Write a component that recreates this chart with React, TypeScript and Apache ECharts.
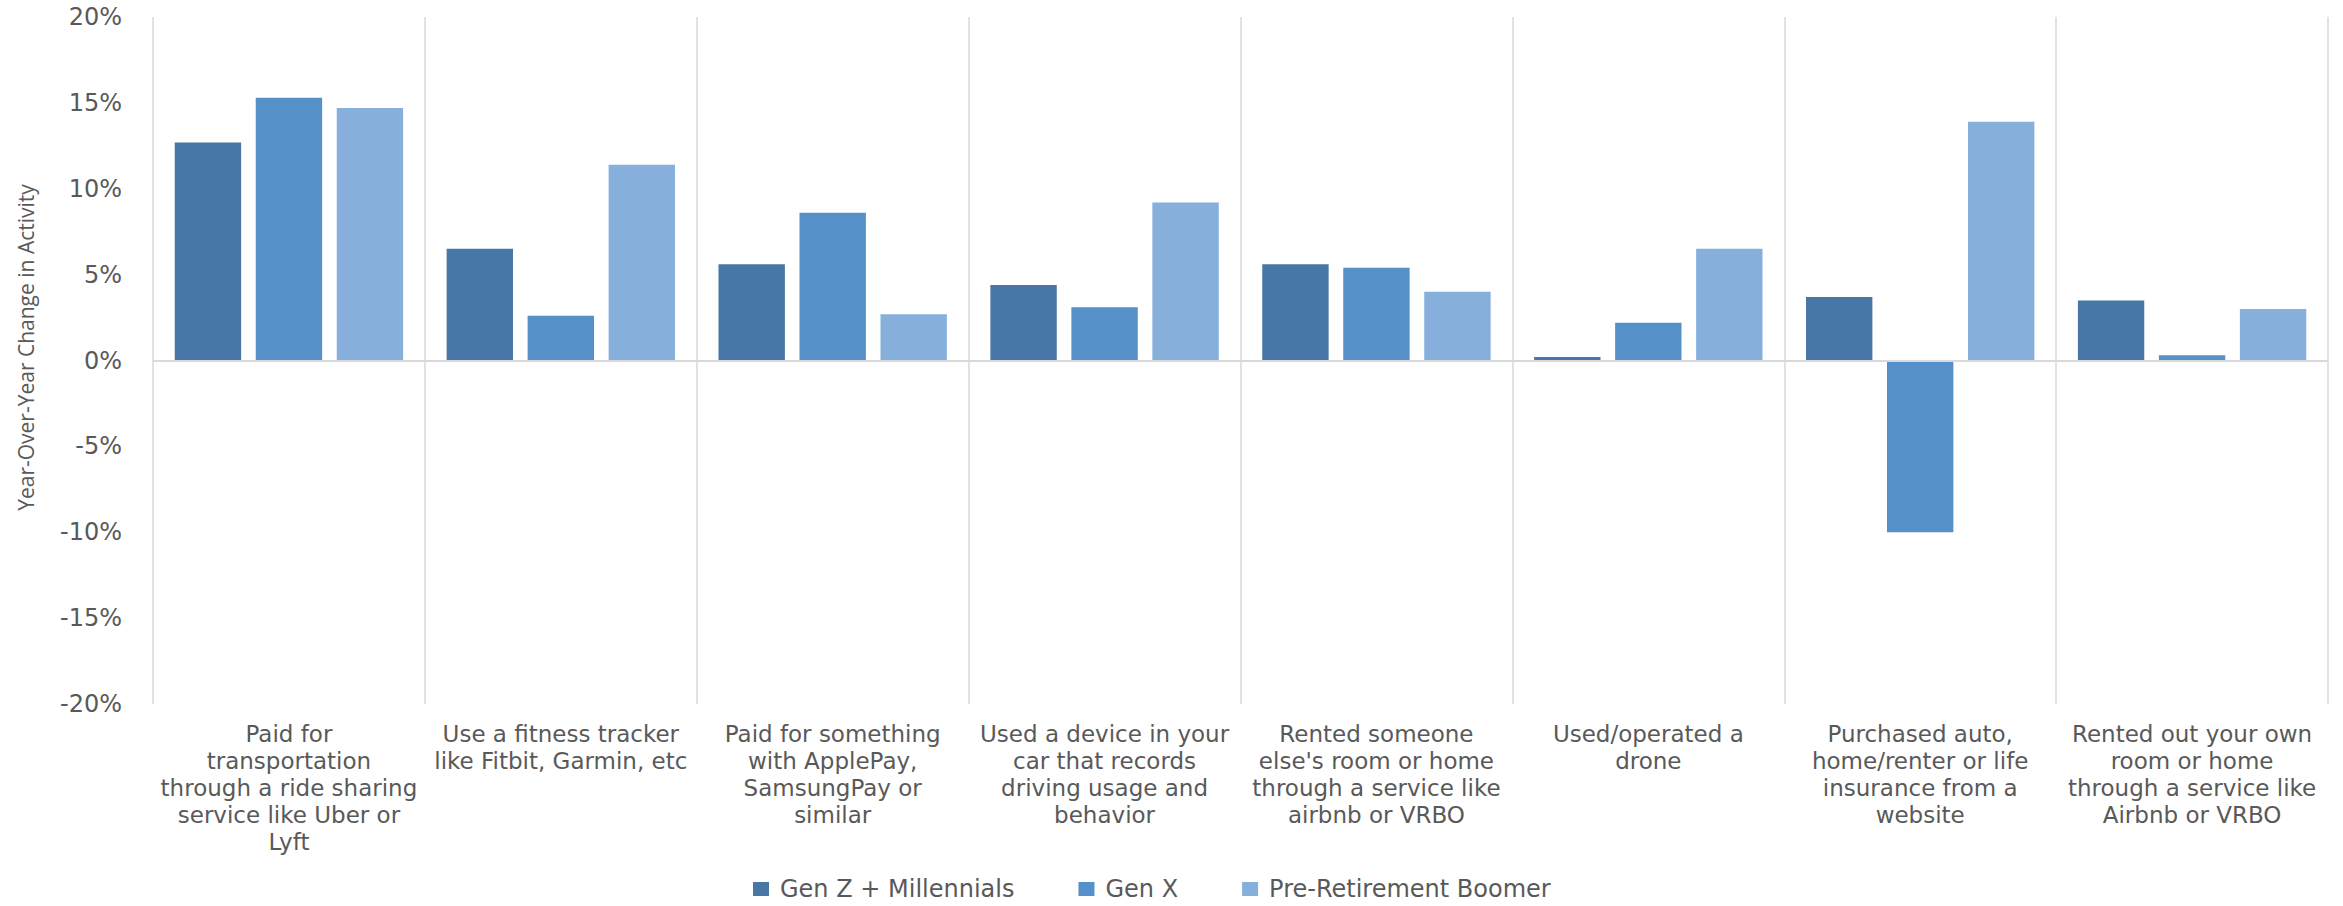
import React, { useEffect, useRef } from "react";
import * as echarts from "echarts";

const categories = [
  "Paid for\ntransportation\nthrough a ride sharing\nservice like Uber or\nLyft",
  "Use a fitness tracker\nlike Fitbit, Garmin, etc",
  "Paid for something\nwith ApplePay,\nSamsungPay or\nsimilar",
  "Used a device in your\ncar that records\ndriving usage and\nbehavior",
  "Rented someone\nelse's room or home\nthrough a service like\nairbnb or VRBO",
  "Used/operated a\ndrone",
  "Purchased auto,\nhome/renter or life\ninsurance from a\nwebsite",
  "Rented out your own\nroom or home\nthrough a service like\nAirbnb or VRBO",
];

const seriesNames = ["Gen Z + Millennials", "Gen X", "Pre-Retirement Boomer"];
const genZMillennials = [12.7, 6.5, 5.6, 4.4, 5.6, 0.2, 3.7, 3.5];
const genX = [15.3, 2.6, 8.6, 3.1, 5.4, 2.2, -10.0, 0.3];
const preRetirementBoomer = [14.7, 11.4, 2.7, 9.2, 4.0, 6.5, 13.9, 3.0];

const yMin = -20;
const yMax = 20;
const yInterval = 5;
const yAxisTitle = "Year-Over-Year Change in Activity";

const colors = ["#4777A6", "#5591C8", "#86AFDB"];

export default function App() {
  const ref = useRef<HTMLDivElement>(null);
  useEffect(() => {
    if (!ref.current) return;
    const chart = echarts.init(ref.current, null, { renderer: "svg" });
    const textColor = "#595959";
    const values = [genZMillennials, genX, preRetirementBoomer];
    chart.setOption({
      animation: false,
      backgroundColor: "#ffffff",
      color: colors,
      grid: { left: 153, right: 15, top: 17, bottom: 202, containLabel: false },
      legend: {
        left: 748,
        top: 871,
        itemWidth: 16,
        itemHeight: 14,
        itemGap: 64,
        icon: "rect",
        textStyle: {
          fontFamily: "DejaVu Sans",
          fontSize: 24,
          lineHeight: 26,
          color: textColor,
          padding: [0, 0, 0, 6],
        },
        data: seriesNames,
      },
      xAxis: {
        type: "category",
        data: categories,
        position: "bottom",
        axisLine: { show: false, onZero: false },
        axisTick: { show: false },
        splitLine: { show: true, lineStyle: { color: "#D9D9D9", width: 1.5 } },
        axisLabel: {
          interval: 0,
          margin: 16,
          fontFamily: "DejaVu Sans",
          fontSize: 23,
          lineHeight: 27,
          color: textColor,
          align: "center",
        },
      },
      yAxis: {
        type: "value",
        min: yMin,
        max: yMax,
        interval: yInterval,
        name: yAxisTitle,
        nameLocation: "middle",
        nameGap: 117,
        nameTextStyle: {
          fontFamily: "Open Sans",
          fontSize: 21,
          color: textColor,
          padding: [0, 0, 0, 26],
        },
        axisLine: { show: false },
        axisTick: { show: false },
        splitLine: { show: false },
        axisLabel: {
          margin: 31,
          fontFamily: "DejaVu Sans",
          fontSize: 24,
          color: textColor,
          formatter: "{value}%",
        },
      },
      series: seriesNames.map((name, i) => ({
        name,
        type: "bar",
        data: values[i],
        barGap: "22%",
        barCategoryGap: "16%",
        itemStyle: { color: colors[i] },
        markLine:
          i === 0
            ? {
                silent: true,
                symbol: "none",
                label: { show: false },
                lineStyle: { color: "#D9D9D9", width: 2, type: "solid" },
                data: [{ yAxis: 0 }],
              }
            : undefined,
      })),
    });
    return () => chart.dispose();
  }, []);
  return (
    <div
      ref={ref}
      style={{ position: "absolute", left: 0, top: 0, width: 2343, height: 906 }}
    />
  );
}
